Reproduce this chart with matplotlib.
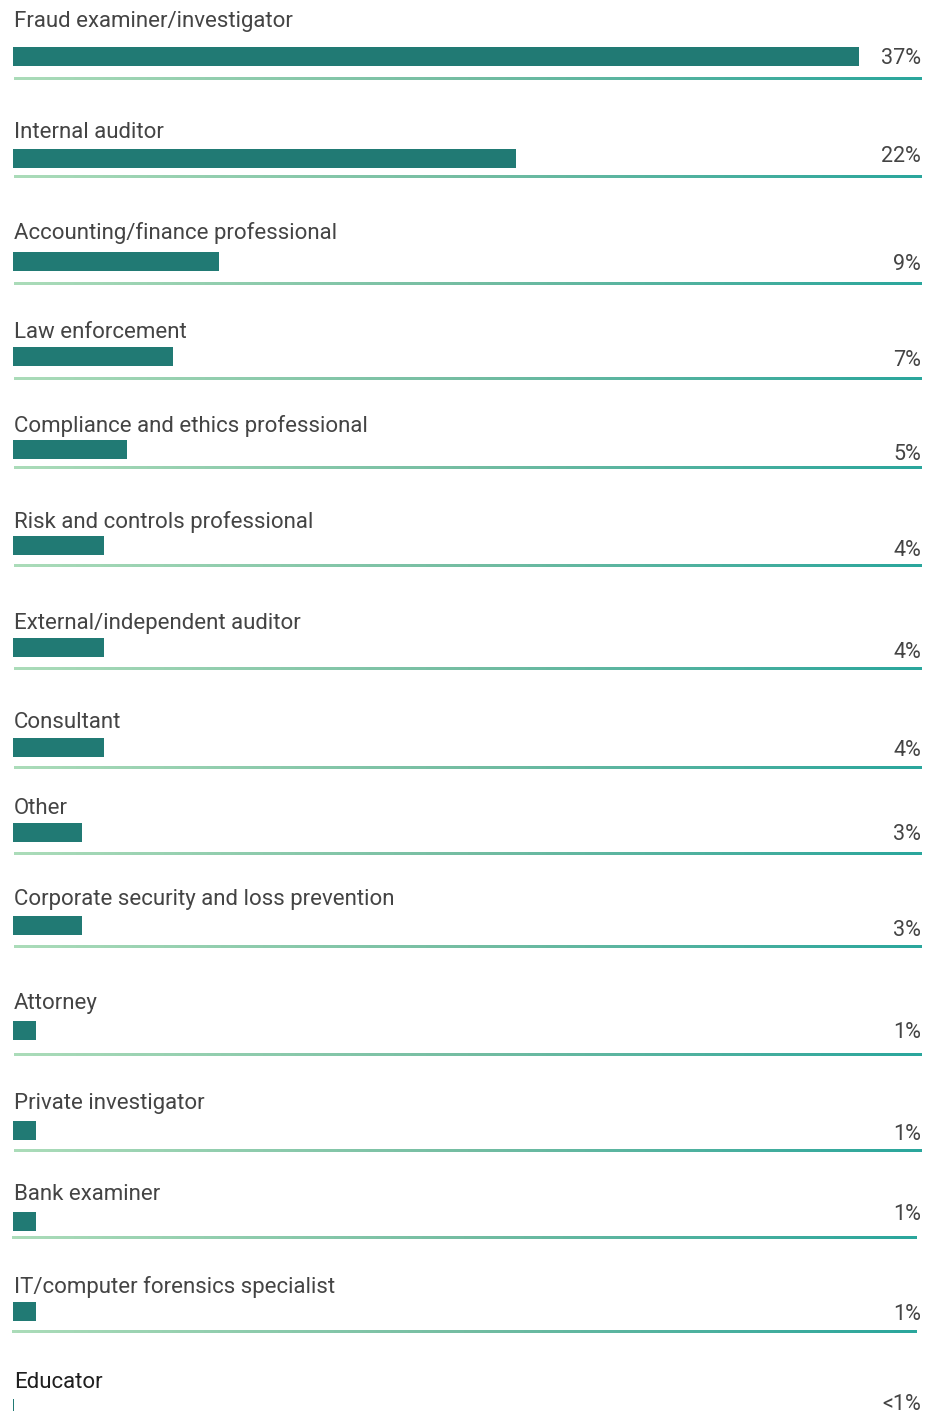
import numpy as np
import matplotlib.pyplot as plt
from matplotlib.colors import LinearSegmentedColormap

# occupations and share of cases (%)
labels = ['Fraud examiner/investigator', 'Internal auditor', 'Accounting/finance professional',
          'Law enforcement', 'Compliance and ethics professional', 'Risk and controls professional',
          'External/independent auditor', 'Consultant', 'Other',
          'Corporate security and loss prevention', 'Attorney', 'Private investigator',
          'Bank examiner', 'IT/computer forensics specialist', 'Educator']
values = [37, 22, 9, 7, 5, 4, 4, 4, 3, 3, 1, 1, 1, 1, 0.05]
pct_labels = ['37%', '22%', '9%', '7%', '5%', '4%', '4%', '4%', '3%', '3%',
              '1%', '1%', '1%', '1%', '<1%']

# layout (pixel rows of the original graphic)
label_y = [20, 131, 231, 330, 424, 520, 621, 720, 807, 897, 1001, 1101, 1192, 1285, 1380]
bar_y = [56, 158, 261, 356, 449, 545, 647, 747, 832, 925, 1030, 1130, 1221, 1311, 1405]
bar_h = [19] * 14 + [12]
pct_y = [56, 155, 263, 358, 453, 548, 651, 749, 833, 928, 1031, 1132, 1213, 1313, 1403]
line_y = [79, 177, 284, 379, 468, 566, 669, 768, 854, 947, 1055, 1151, 1238, 1332, None]
line_x0 = [14] * 12 + [12, 12, 12]
line_x1 = [921] * 12 + [917, 917, 917]

W, H = 931, 1419
px_per_pct = 846 / 37.0
x0 = 13

fig = plt.figure(figsize=(W / 100, H / 100), dpi=100)
ax = fig.add_axes([0, 0, 1, 1])
ax.axis('off')

bar_color = '#217a74'
text_color = '#444444'
cmap = LinearSegmentedColormap.from_list('ln', ['#abdcb9', '#74bda2', '#2aa69c'])
grad = np.linspace(0, 1, 256).reshape(1, -1)

def px(x):
    return (x - x0) / px_per_pct

ax.barh(bar_y, values, height=bar_h, left=0, color=bar_color, align='center')

for i, lab in enumerate(labels):
    col = '#1f1f1f' if i == len(labels) - 1 else text_color
    ax.text(px(14), label_y[i] + 2, lab, fontsize=16, family='Roboto', color=col,
            va='center', ha='left')
    ax.text(px(921), pct_y[i] + 2, pct_labels[i], fontsize=15.5, family='Roboto',
            color=text_color, va='center', ha='right')
    if line_y[i] is not None:
        ax.imshow(grad, cmap=cmap, aspect='auto', interpolation='bilinear',
                  extent=[px(line_x0[i]), px(line_x1[i]), line_y[i] + 1.2, line_y[i] - 1.2])

ax.set_xlim(-x0 / px_per_pct, (W - x0) / px_per_pct)
ax.set_ylim(H, 0)

fig.savefig('out.png', dpi=100)
